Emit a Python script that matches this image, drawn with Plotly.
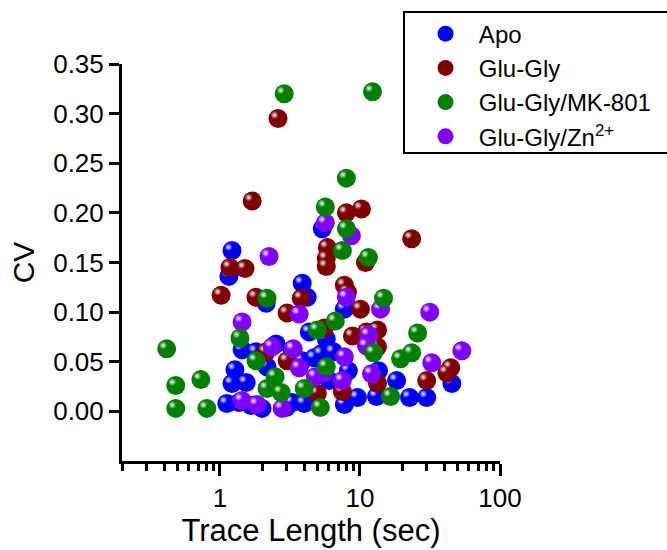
import numpy as np
import plotly.graph_objects as go

# ---- data: trace length (sec) vs coefficient of variation ----
apo_x = [1.22, 1.16, 5.38, 3.87, 4.20, 2.14, 7.74, 4.35, 5.75, 2.52, 1.44, 1.81,
         1.28, 1.22, 1.54, 1.12, 1.37, 1.67, 2.00, 2.17, 3.28, 4.00, 4.72, 5.30,
         6.46, 6.05, 7.74, 9.60, 8.27, 13.57, 13.13, 18.27, 22.6, 29.97, 45.3,
         2.97, 3.28, 3.87]
apo_y = [0.162, 0.136, 0.184, 0.129, 0.115, 0.109, 0.103, 0.080, 0.073, 0.068,
         0.062, 0.060, 0.042, 0.028, 0.029, 0.008, 0.009, 0.006, 0.003, 0.045,
         0.009, 0.008, 0.054, 0.058, 0.060, 0.031, 0.007, 0.014, 0.041, 0.041,
         0.015, 0.031, 0.014, 0.014, 0.028, 0.004, 0.062, 0.051]

glugly_x = [2.60, 1.70, 8.00, 10.25, 23.4, 5.85, 5.75, 5.75, 10.95, 1.18, 1.51,
            1.02, 1.81, 3.81, 3.02, 7.74, 8.14, 10.08, 8.84, 13.35, 13.35, 13.35,
            29.97, 44.5, 41.7, 2.14, 3.02, 4.96, 7.49, 5.57, 11.13]
glugly_y = [0.295, 0.212, 0.200, 0.204, 0.174, 0.165, 0.154, 0.146, 0.150, 0.145,
            0.144, 0.117, 0.115, 0.114, 0.099, 0.127, 0.120, 0.103, 0.076, 0.082,
            0.065, 0.028, 0.031, 0.044, 0.039, 0.060, 0.051, 0.018, 0.020, 0.084,
            0.080]

mk801_x = [2.88, 12.29, 8.00, 5.66, 8.00, 7.49, 11.5, 2.17, 14.74, 1.39, 0.417,
           4.96, 6.67, 25.8, 12.5, 19.5, 23.4, 5.75, 1.81, 0.731, 0.484, 0.484,
           0.807, 2.17, 2.48, 2.74, 4.00, 5.21, 16.55]
mk801_y = [0.320, 0.322, 0.235, 0.206, 0.184, 0.162, 0.155, 0.114, 0.114, 0.074,
           0.063, 0.082, 0.091, 0.079, 0.059, 0.053, 0.059, 0.045, 0.051, 0.032,
           0.026, 0.003, 0.003, 0.023, 0.035, 0.019, 0.023, 0.004, 0.015]

zn_x = [2.245, 5.66, 8.69, 1.44, 2.36, 3.34, 3.68, 8.00, 14.03, 31.5, 7.74, 3.68,
        4.80, 7.49, 11.5, 11.13, 12.09, 32.55, 53.4, 1.44, 1.84, 2.78, 5.57]
zn_y = [0.156, 0.190, 0.177, 0.090, 0.065, 0.063, 0.098, 0.115, 0.103, 0.100,
        0.055, 0.044, 0.035, 0.031, 0.077, 0.066, 0.038, 0.049, 0.061, 0.011,
        0.007, 0.003, 0.039]

y_tickvals = [0.00, 0.05, 0.10, 0.15, 0.20, 0.25, 0.30, 0.35]
x_tickvals = [1, 10, 100]
x_ticktext = ["1", "10", "100"]

# ---- layout geometry ----
W, H = 667, 550
MARGIN = dict(l=122, r=167, t=64, b=89)
X_RANGE = (0.2, 100)
Y_RANGE = (-0.05, 0.35)
FONT = "Liberation Sans, Arial, sans-serif"

plot_w = W - MARGIN["l"] - MARGIN["r"]
plot_h = H - MARGIN["t"] - MARGIN["b"]
px_per_decade = plot_w / (np.log10(X_RANGE[1]) - np.log10(X_RANGE[0]))
y_per_px = (Y_RANGE[1] - Y_RANGE[0]) / plot_h

# specular highlight sits up and to the left of each ball's centre
HL_SHIFT_PX = 3.5
hl_xfac = 10 ** (-HL_SHIFT_PX / px_per_decade)
hl_dy = HL_SHIFT_PX * y_per_px

BALL = 19
HL = 8

# drawing order (blue at the back), legend order set by legendrank
series = [
    ("Apo", apo_x, apo_y, "#0000FF", 1),
    ("Glu-Gly", glugly_x, glugly_y, "#800000", 2),
    ("Glu-Gly/Zn<sup>2+</sup>", zn_x, zn_y, "#8000FF", 4),
    ("Glu-Gly/MK-801", mk801_x, mk801_y, "#008000", 3),
]

pad = "\u00a0\u00a0"
fig = go.Figure()
for name, xs, ys, color, rank in series:
    xs = np.asarray(xs, dtype=float)
    ys = np.asarray(ys, dtype=float)
    fig.add_trace(go.Scatter(
        x=xs, y=ys, mode="markers", name=pad + name, legendrank=rank,
        marker=dict(size=BALL, color=color, line=dict(width=0)),
    ))
    fig.add_trace(go.Scatter(
        x=xs * hl_xfac, y=ys + hl_dy, mode="markers", showlegend=False,
        hoverinfo="skip",
        marker=dict(size=HL, color=color, line=dict(width=0),
                    gradient=dict(type="radial", color="rgba(255,255,255,0.95)")),
    ))

minor_vals = [m * d for d in (0.1, 1, 10) for m in range(2, 10)
              if X_RANGE[0] <= m * d <= X_RANGE[1]]

fig.update_layout(
    width=W, height=H, margin=dict(**MARGIN, autoexpand=False),
    paper_bgcolor="white", plot_bgcolor="white",
    font=dict(family=FONT, size=24, color="black"),
    showlegend=True,
    legend=dict(
        x=0.803, y=1.132, xanchor="left", yanchor="top",
        bgcolor="rgba(0,0,0,0)", borderwidth=0,
        font=dict(family=FONT, size=24, color="black"),
        tracegroupgap=0, itemsizing="trace",
    ),
    shapes=[dict(type="rect", xref="paper", yref="paper",
                 x0=0.746, x1=1.5, y0=0.776, y1=1.131,
                 line=dict(color="black", width=2), fillcolor="rgba(0,0,0,0)")],
)

fig.update_xaxes(
    type="log", range=[np.log10(X_RANGE[0]), np.log10(X_RANGE[1])],
    showline=True, linecolor="black", linewidth=3, mirror=False,
    showgrid=False, zeroline=False, automargin=True,
    tickmode="array", tickvals=x_tickvals, ticktext=x_ticktext,
    ticks="outside", ticklen=12, tickwidth=3, tickcolor="black",
    tickfont=dict(family=FONT, size=26),
    minor=dict(tickmode="array", tickvals=minor_vals, ticks="outside",
               ticklen=7, tickwidth=3, tickcolor="black", showgrid=False),
    title=dict(text="Trace Length (sec)", font=dict(family=FONT, size=31), standoff=6),
)
fig.update_yaxes(
    range=list(Y_RANGE),
    showline=True, linecolor="black", linewidth=3, mirror=False,
    showgrid=False, zeroline=False, automargin=True,
    tickmode="array", tickvals=y_tickvals, tickformat=".2f",
    ticks="outside", ticklen=10, tickwidth=3, tickcolor="black",
    tickfont=dict(family=FONT, size=26),
    title=dict(text="CV", font=dict(family=FONT, size=30), standoff=10),
)

fig.write_html("out.html")
